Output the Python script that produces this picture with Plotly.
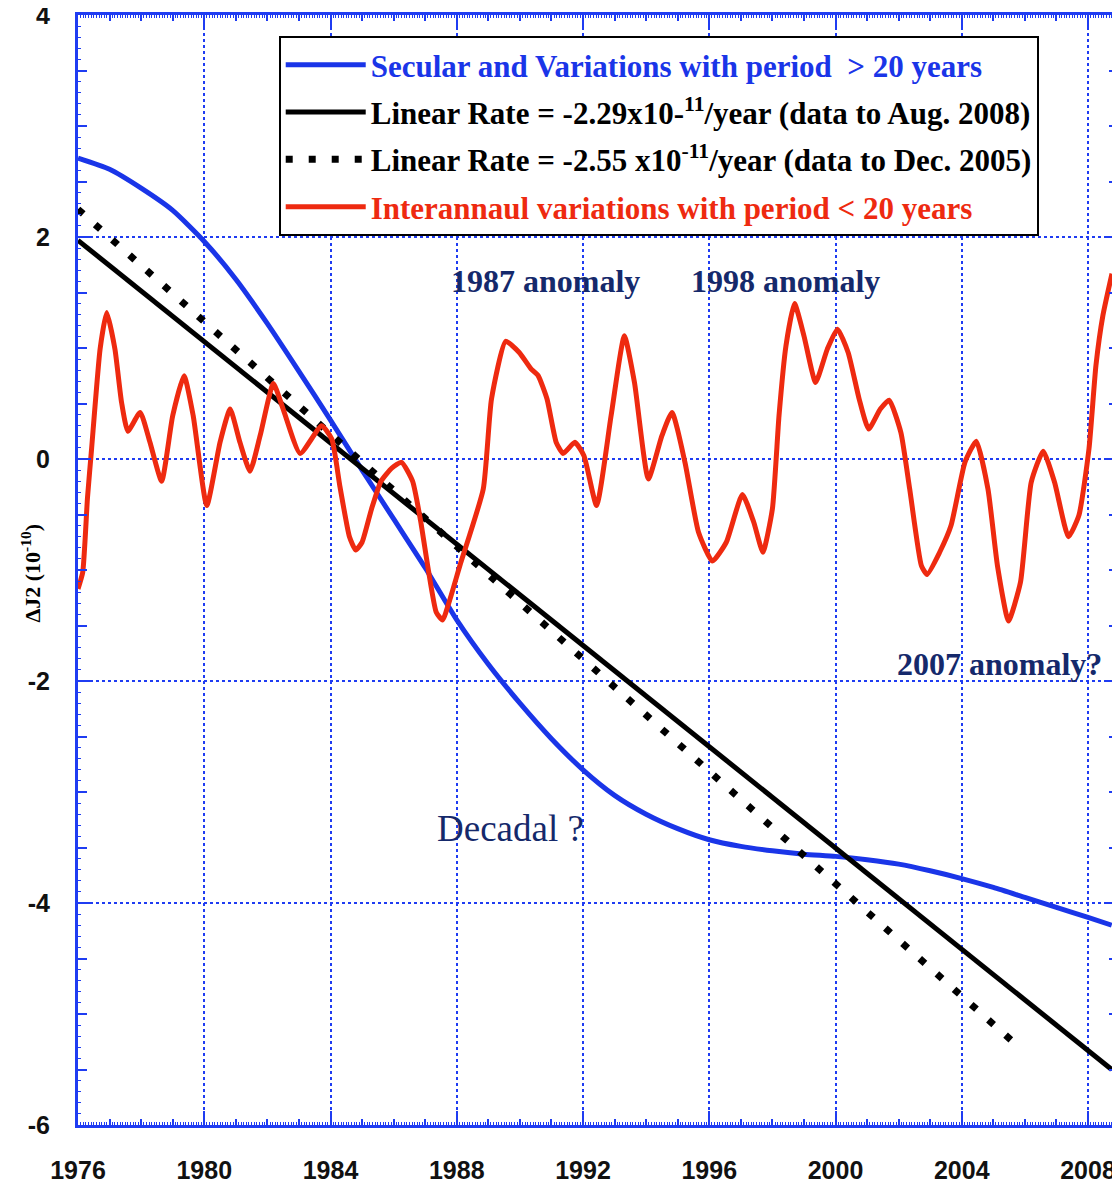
import plotly.graph_objects as go

# ---------------- data ----------------
secular_years = [1976.0, 1977, 1978, 1979, 1980, 1981, 1982, 1983, 1984, 1985, 1986, 1987,
                 1988, 1989, 1990, 1991, 1992, 1993, 1994, 1995, 1996, 1997, 1998, 1999,
                 2000, 2001, 2002, 2003, 2004, 2005, 2006, 2007, 2008, 2008.75]
secular_vals = [2.71, 2.61, 2.44, 2.24, 1.96, 1.62, 1.22, 0.79, 0.35, -0.10, -0.54, -0.98,
                -1.45, -1.85, -2.20, -2.52, -2.80, -3.03, -3.20, -3.33, -3.43, -3.49, -3.53, -3.56,
                -3.58, -3.61, -3.65, -3.71, -3.78, -3.86, -3.95, -4.04, -4.13, -4.20]

inter_years = [1976.0, 1976.15, 1976.3, 1976.43, 1976.7, 1976.91, 1977.17, 1977.38, 1977.58,
               1977.97, 1978.28, 1978.65, 1979.0, 1979.36, 1979.65, 1980.08, 1980.5, 1980.82,
               1981.13, 1981.45, 1981.77, 1982.19, 1982.5, 1983.04, 1983.72, 1984.04, 1984.3,
               1984.6, 1984.8, 1985.0, 1985.3, 1985.6, 1985.95, 1986.25, 1986.6, 1986.85,
               1987.1, 1987.35, 1987.55, 1987.8, 1988.1, 1988.84, 1989.1, 1989.55, 1989.98,
               1990.36, 1990.58, 1990.86, 1991.15, 1991.37, 1991.74, 1992.03, 1992.43, 1992.89,
               1993.31, 1993.63, 1994.07, 1994.5, 1994.82, 1995.23, 1995.66, 1996.1, 1996.54,
               1997.05, 1997.41, 1997.7, 1998.0, 1998.21, 1998.43, 1998.7, 1999.0, 1999.37,
               1999.74, 2000.06, 2000.4, 2000.75, 2001.05, 2001.42, 2001.7, 2002.07, 2002.35,
               2002.72, 2002.9, 2003.3, 2003.66, 2004.1, 2004.46, 2004.83, 2005.13, 2005.48,
               2005.86, 2006.2, 2006.58, 2006.94, 2007.38, 2007.71, 2008.03, 2008.25, 2008.47,
               2008.76]
inter_vals = [-1.17, -1.02, -0.35, 0.09, 0.99, 1.32, 0.99, 0.51, 0.25,
              0.42, 0.15, -0.20, 0.39, 0.75, 0.39, -0.42, 0.15, 0.45,
              0.15, -0.11, 0.21, 0.68, 0.45, 0.05, 0.30, 0.18, -0.25,
              -0.70, -0.82, -0.75, -0.45, -0.20, -0.08, -0.03, -0.20, -0.55,
              -1.00, -1.38, -1.45, -1.25, -0.96, -0.27, 0.54, 1.06, 0.96,
              0.81, 0.75, 0.54, 0.15, 0.05, 0.15, 0.03, -0.42, 0.39,
              1.11, 0.69, -0.18, 0.21, 0.42, -0.03, -0.66, -0.92, -0.75,
              -0.32, -0.57, -0.84, -0.45, 0.39, 1.02, 1.40, 1.11, 0.69,
              0.99, 1.17, 0.96, 0.54, 0.27, 0.45, 0.53, 0.24, -0.27,
              -0.96, -1.04, -0.84, -0.60, -0.03, 0.16, -0.27, -0.96, -1.46,
              -1.11, -0.21, 0.07, -0.21, -0.70, -0.51, 0.09, 0.84, 1.29,
              1.67]

fit2008_years = [1976.0, 2008.75]
fit2008_vals = [1.97, -5.50]
fit2005_years = [1976.0, 2005.9]
fit2005_vals = [2.25, -5.32]

x_tick_vals = [1976, 1980, 1984, 1988, 1992, 1996, 2000, 2004, 2008]
x_tick_text = ["1976", "1980", "1984", "1988", "1992", "1996", "2000", "2004", "2008"]
y_tick_vals = [-6, -4, -2, 0, 2, 4]
y_tick_text = ["-6", "-4", "-2", "0", "2", "4"]

# ---------------- style ----------------
BLUE = "#1a35e8"
AXBLUE = "#1f3cf2"
RED = "#ee2a10"
NAVY = "#15296b"
SERIF = "Liberation Serif, Times New Roman, serif"
SANS = "Liberation Sans, Arial, sans-serif"

fig = go.Figure()

fig.add_trace(go.Scatter(
    x=secular_years, y=secular_vals, mode="lines",
    line=dict(color=BLUE, width=5, shape="spline", smoothing=0.6),
    name='<span style="color:%s">Secular and Variations with period&nbsp;&nbsp;&gt; 20 years</span>' % BLUE,
    legendgroup="a"))
fig.add_trace(go.Scatter(
    x=fit2008_years, y=fit2008_vals, mode="lines",
    line=dict(color="black", width=5),
    name="Linear Rate = -2.29x10-<sup>11</sup>/year (data to Aug. 2008)",
    legendgroup="b"))
fig.add_trace(go.Scatter(
    x=fit2005_years, y=fit2005_vals, mode="lines",
    line=dict(color="black", width=7, dash="7px,16px"),
    name="Linear Rate = -2.55 x10<sup>-11</sup>/year (data to Dec. 2005)",
    legendgroup="c"))
fig.add_trace(go.Scatter(
    x=inter_years, y=inter_vals, mode="lines",
    line=dict(color=RED, width=5, shape="spline", smoothing=0.5),
    name='<span style="color:%s">Interannaul variations with period &lt; 20 years</span>' % RED,
    legendgroup="d"))

# invisible helper traces so that fine-tick overlay axes are drawn
fig.add_trace(go.Scatter(x=[1976], y=[0], xaxis="x2", yaxis="y", mode="markers",
                         marker=dict(opacity=0), showlegend=False, hoverinfo="skip"))
fig.add_trace(go.Scatter(x=[1976], y=[0], xaxis="x", yaxis="y2", mode="markers",
                         marker=dict(opacity=0), showlegend=False, hoverinfo="skip"))

XR = [1976, 2008.95]
YR = [-6, 4]

# the page body has an 8px margin, so the figure is 8px smaller and margins shifted
fig.update_layout(
    width=1112, height=1176,
    margin=dict(l=70, r=2, t=7, b=59, autoexpand=False),
    paper_bgcolor="white", plot_bgcolor="white",
    showlegend=True,
    legend=dict(
        x=0.193, y=0.981, xanchor="left", yanchor="top",
        bgcolor="white", bordercolor="black", borderwidth=2,
        font=dict(family=SERIF, size=31, color="black", weight="bold"),
        itemwidth=80, tracegroupgap=4,
        traceorder="grouped",
    ),
    xaxis=dict(
        range=XR, tickmode="array", tickvals=x_tick_vals, ticktext=x_tick_text,
        ticks="inside", ticklen=14, tickwidth=2, tickcolor=AXBLUE,
        showline=True, linecolor=AXBLUE, linewidth=3, mirror="ticks",
        showgrid=True, gridcolor=AXBLUE, griddash="dot", gridwidth=1.5,
        zeroline=False, automargin=False, ticklabeloverflow="allow",
        tickfont=dict(family=SANS, size=25, color="#111", weight="bold"),
        ticklabelstandoff=21,
        minor=dict(dtick=1, ticks="inside", ticklen=6, tickwidth=1.5, tickcolor=AXBLUE, showgrid=False),
    ),
    xaxis2=dict(
        range=XR, overlaying="x", anchor="y", side="bottom",
        tick0=1976, dtick=1/12, ticks="inside", ticklen=3, tickwidth=1, tickcolor=AXBLUE,
        showticklabels=False, showgrid=False, zeroline=False, showline=False, mirror="ticks",
        automargin=False,
    ),
    yaxis=dict(
        range=YR, tickmode="array", tickvals=y_tick_vals, ticktext=y_tick_text,
        ticks="inside", ticklen=13, tickwidth=2, tickcolor=AXBLUE,
        showline=True, linecolor=AXBLUE, linewidth=3, mirror="ticks",
        showgrid=True, gridcolor=AXBLUE, griddash="dot", gridwidth=1.5,
        zeroline=False, automargin=False, ticklabeloverflow="allow",
        tickfont=dict(family=SANS, size=25, color="#111", weight="bold"),
        ticklabelstandoff=20,
        minor=dict(dtick=0.5, ticks="inside", ticklen=9, tickwidth=1.5, tickcolor=AXBLUE, showgrid=False),
    ),
    yaxis2=dict(
        range=YR, overlaying="y", anchor="x", side="left",
        tick0=-6, dtick=0.1, ticks="inside", ticklen=3, tickwidth=1, tickcolor=AXBLUE,
        showticklabels=False, showgrid=False, zeroline=False, showline=False, mirror="ticks",
        automargin=False,
    ),
)

ann_font_bold = dict(family=SERIF, size=32, color=NAVY, weight="bold")
fig.add_annotation(x=1990.8, y=1.6, xref="x", yref="y", text="1987 anomaly",
                   showarrow=False, font=ann_font_bold)
fig.add_annotation(x=1998.4, y=1.6, xref="x", yref="y", text="1998 anomaly",
                   showarrow=False, font=ann_font_bold)
fig.add_annotation(x=2005.2, y=-1.85, xref="x", yref="y", text="2007 anomaly?",
                   showarrow=False, font=ann_font_bold)
fig.add_annotation(x=1989.7, y=-3.33, xref="x", yref="y", text="Decadal ?",
                   showarrow=False, font=dict(family=SERIF, size=37, color=NAVY))
fig.add_annotation(x=-0.045, y=0.497, xref="paper", yref="paper",
                   xanchor="center", yanchor="middle",
                   text="ΔJ2 (10<sup>-10</sup>)", textangle=-90, showarrow=False,
                   font=dict(family=SERIF, size=22, color="black", weight="bold"))

fig.write_html("out.html")
